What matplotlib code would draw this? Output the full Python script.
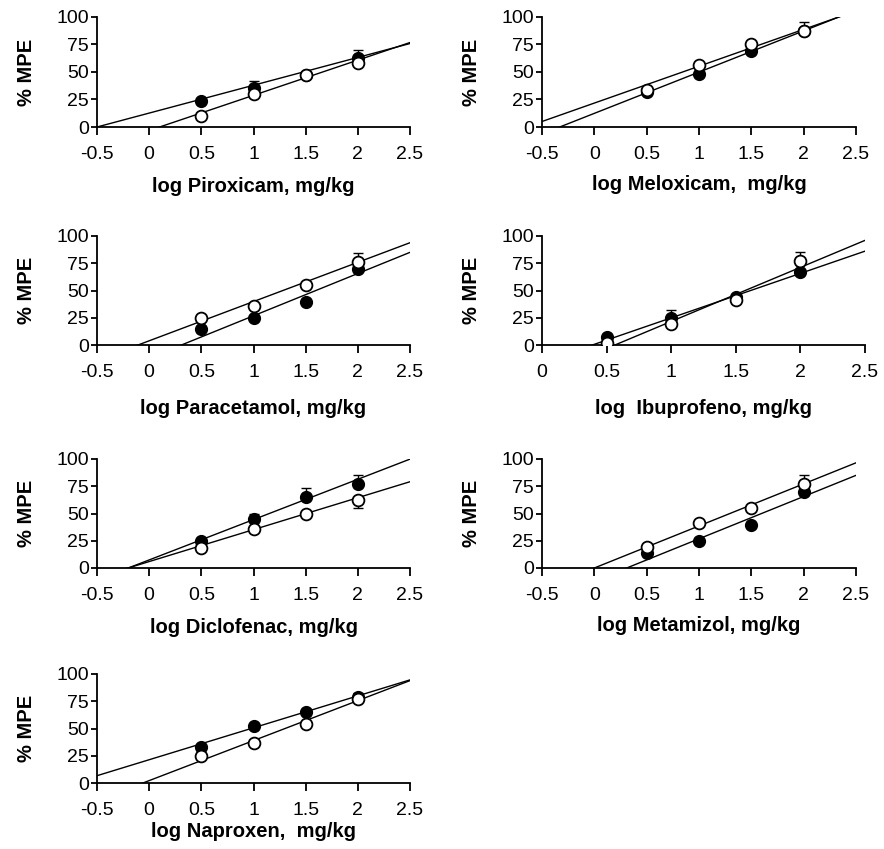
import matplotlib
matplotlib.use("Agg")
import matplotlib.pyplot as plt
import numpy as np

plt.rcParams['font.family'] = ['Liberation Sans', 'DejaVu Sans']

doses = [0.5, 1.0, 1.5, 2.0]
drugs = ["Piroxicam", "Meloxicam", "Paracetamol", "Ibuprofeno", "Diclofenac", "Metamizol", "Naproxen"]
xlabels = ["log Piroxicam, mg/kg", "log Meloxicam,  mg/kg", "log Paracetamol, mg/kg",
           "log  Ibuprofeno, mg/kg", "log Diclofenac, mg/kg", "log Metamizol, mg/kg",
           "log Naproxen,  mg/kg"]

filled_vals = {
    "Piroxicam":   [24, 35, 47, 63],
    "Meloxicam":   [32, 48, 69, 87],
    "Paracetamol": [15, 25, 39, 70],
    "Ibuprofeno":  [7, 25, 44, 67],
    "Diclofenac":  [25, 45, 65, 77],
    "Metamizol":   [14, 25, 39, 70],
    "Naproxen":    [33, 52, 65, 79],
}
open_vals = {
    "Piroxicam":   [10, 30, 47, 58],
    "Meloxicam":   [34, 56, 75, 87],
    "Paracetamol": [25, 36, 55, 76],
    "Ibuprofeno":  [2, 19, 41, 77],
    "Diclofenac":  [18, 36, 50, 62],
    "Metamizol":   [19, 41, 55, 77],
    "Naproxen":    [25, 37, 54, 77],
}
# error bars (upper, lower)
filled_err_up = {
    "Piroxicam":   [0, 7, 0, 7],
    "Meloxicam":   [0, 0, 0, 0],
    "Paracetamol": [0, 0, 0, 0],
    "Ibuprofeno":  [0, 7, 0, 0],
    "Diclofenac":  [0, 5, 8, 8],
    "Metamizol":   [0, 0, 0, 0],
    "Naproxen":    [0, 0, 0, 4],
}
open_err_up = {
    "Piroxicam":   [0, 0, 0, 0],
    "Meloxicam":   [0, 0, 0, 8],
    "Paracetamol": [0, 0, 0, 8],
    "Ibuprofeno":  [0, 0, 0, 8],
    "Diclofenac":  [0, 0, 0, 0],
    "Metamizol":   [0, 0, 0, 8],
    "Naproxen":    [0, 0, 0, 0],
}
open_err_down = {
    "Diclofenac":  [0, 0, 0, 7],
}
# regression lines: (slope, intercept)
filled_line = {
    "Piroxicam":   (25.3, 12.65),
    "Meloxicam":   (37.5, 12.4),
    "Paracetamol": (38.8, -12.0),
    "Ibuprofeno":  (40.8, -15.9),
    "Diclofenac":  (37.0, 7.4),
    "Metamizol":   (38.8, -12.0),
    "Naproxen":    (29.3, 21.35),
}
open_line = {
    "Piroxicam":   (32.0, -3.2),
    "Meloxicam":   (33.5, 21.75),
    "Paracetamol": (36.0, 3.85),
    "Ibuprofeno":  (49.6, -28.0),
    "Diclofenac":  (29.3, 5.9),
    "Metamizol":   (38.6, 0.0),
    "Naproxen":    (36.7, 2.2),
}
xmins = {"Ibuprofeno": 0.0}

# axes pixel boxes: (left, top, right, bottom)
W, H = 884, 849
boxes = [
    (97, 17, 410, 127), (542, 17, 856, 127),
    (97, 236, 410, 345), (542, 236, 865, 345),
    (97, 459, 410, 568), (542, 459, 856, 568),
    (97, 674, 410, 783),
]
xlabel_pads = [10, 8.5, 13, 13, 10, 9, 2.5]

fig = plt.figure(figsize=(W / 100, H / 100), dpi=100)

for drug, xl, (l, t, r, b), lp in zip(drugs, xlabels, boxes, xlabel_pads):
    ax = fig.add_axes([l / W, 1 - b / H, (r - l) / W, (b - t) / H])
    xmin = xmins.get(drug, -0.5)
    ax.set_xlim(xmin, 2.5)
    ax.set_ylim(0, 100)
    xs = np.array([xmin, 2.5])
    for (m, c) in (filled_line[drug], open_line[drug]):
        ax.plot(xs, m * xs + c, color='black', lw=1.0, zorder=2)
    fu = filled_err_up[drug]
    ax.errorbar(doses, filled_vals[drug], yerr=[[0] * 4, fu], fmt='none',
                ecolor='black', elinewidth=1.0, capsize=3.5, capthick=1.0, zorder=3)
    ou = open_err_up[drug]
    od = open_err_down.get(drug, [0] * 4)
    ax.errorbar(doses, open_vals[drug], yerr=[od, ou], fmt='none',
                ecolor='black', elinewidth=1.0, capsize=3.5, capthick=1.0, zorder=3)
    ax.plot(doses, filled_vals[drug], 'o', ms=8.5, mfc='black', mec='black', zorder=4)
    ax.plot(doses, open_vals[drug], 'o', ms=8.5, mfc='white', mec='black', mew=1.3, zorder=5)
    ax.spines['top'].set_visible(False)
    ax.spines['right'].set_visible(False)
    ax.spines['left'].set_linewidth(1.3)
    ax.spines['bottom'].set_linewidth(1.3)
    ax.set_yticks([0, 25, 50, 75, 100])
    ax.set_xticks(np.arange(xmin, 2.51, 0.5))
    ax.set_xticklabels([("%g" % v) for v in np.arange(xmin, 2.51, 0.5)])
    ax.tick_params(axis='both', labelsize=14, direction='out', width=1.3)
    ax.tick_params(axis='x', length=6, pad=7.5)
    ax.tick_params(axis='y', length=4.5, pad=1.5)
    ax.set_ylabel("% MPE", fontsize=14.5, fontweight='bold', labelpad=14.5)
    ax.set_xlabel(xl, fontsize=14.5, fontweight='bold', labelpad=lp)
    for s in ax.spines.values():
        s.set_clip_on(False)

fig.savefig("out.png", dpi=100, facecolor='white')
